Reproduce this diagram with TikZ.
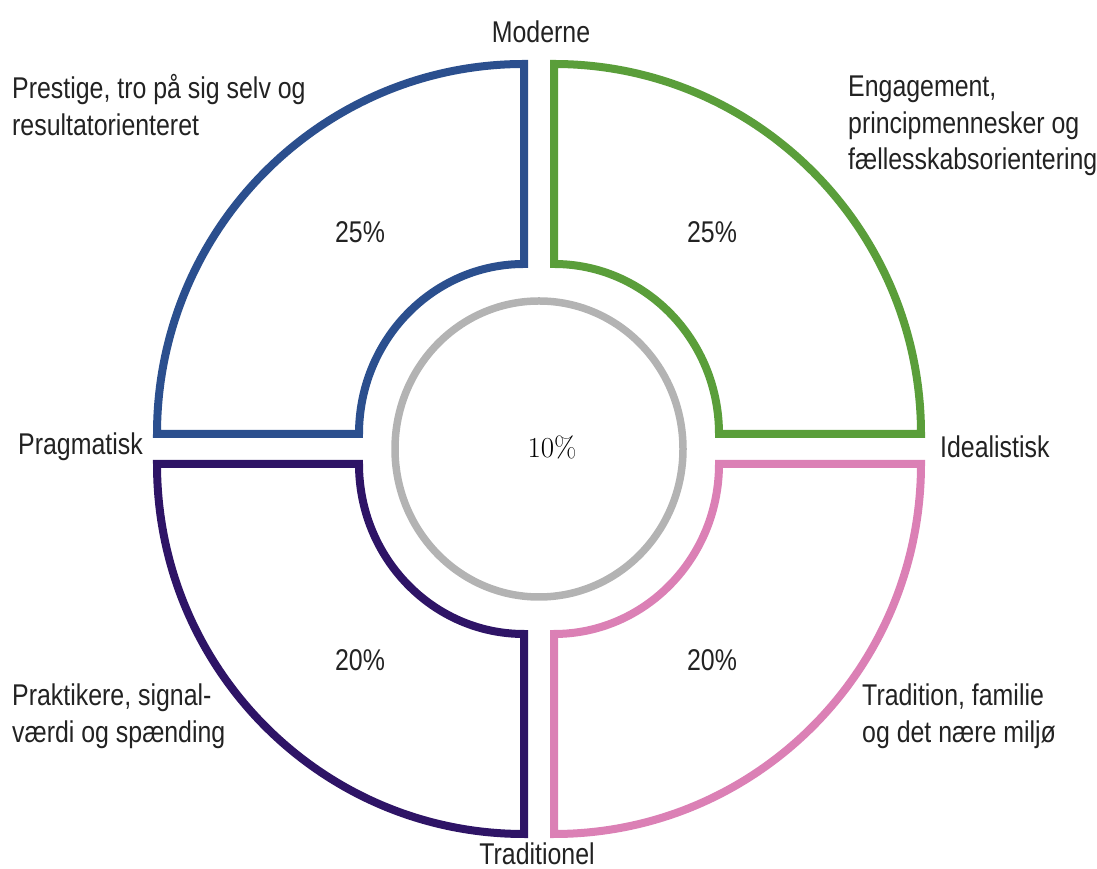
\documentclass[tikz,border=0pt]{standalone}
\usepackage{fontspec}
\newfontfamily\labelfont{Liberation Sans}[FakeStretch=0.83]
\definecolor{qblue}{HTML}{2B4F8E}
\definecolor{qgreen}{HTML}{5A9E3A}
\definecolor{qpurple}{HTML}{2E1466}
\definecolor{qpink}{HTML}{DB80B5}
\definecolor{qgray}{HTML}{B3B3B3}
\definecolor{txt}{HTML}{222222}
\begin{document}
\begin{tikzpicture}[x=1pt,y=1pt,line join=miter,
	lbl/.style={inner sep=0pt,text=txt,font=\labelfont\fontsize{30}{36.5}\selectfont},
	side/.style={lbl,anchor=west,align=left},
	pct/.style={lbl}]
			\useasboundingbox (0,0) rectangle (1097,869);
			% the four quarter rings
			\foreach \cx/\cy/\sx/\sy/\col in {524/435/-1/1/qblue,554/435/1/1/qgreen,524/405/-1/-1/qpurple,554/405/1/-1/qpink}
			\draw[line width=8pt,color=\col,shift={(\cx,\cy)},xscale=\sx,yscale=\sy]
				(367,0) arc[start angle=0,end angle=90,x radius=367,y radius=370]
				-- (0,170) arc[start angle=90,end angle=0,x radius=165,y radius=170] -- cycle;
			\draw[line width=7.5pt,color=qgray] (539,420) ellipse[x radius=144,y radius=148];
			% axis words
			\node[lbl] (moderne) at (541,837) {Moderne};
			\node[lbl] (traditionel) at (537,15) {Traditionel};
			\node[side] (pragmatisk) at (18,422) {Pragmatisk};
			\node[side] (idealistisk) at (940,422) {Idealistisk};
			% descriptions
			\node[side] (prestige) at (12,764) {Prestige, tro på sig selv og\\resultatorienteret};
			\node[side] (engagement) at (848,743) {Engagement,\\principmennesker og\\fællesskabsorientering};
			\node[side] (praktikere) at (12,153) {Praktikere, signal-\\værdi og spænding};
			\node[side] (tradition) at (862,153) {Tradition, familie\\og det nære miljø};
			% shares
			\node[pct] (pctA) at (360,637) {25\%};
			\node[pct] (pctB) at (712,637) {25\%};
			\node[pct] (pctC) at (360,209) {20\%};
			\node[pct] (pctD) at (712,209) {20\%};
			\node[inner sep=0pt,text=black,font=\fontsize{29}{32}\selectfont] (center) at (552,422) {10\%};
\end{tikzpicture}
\end{document}
